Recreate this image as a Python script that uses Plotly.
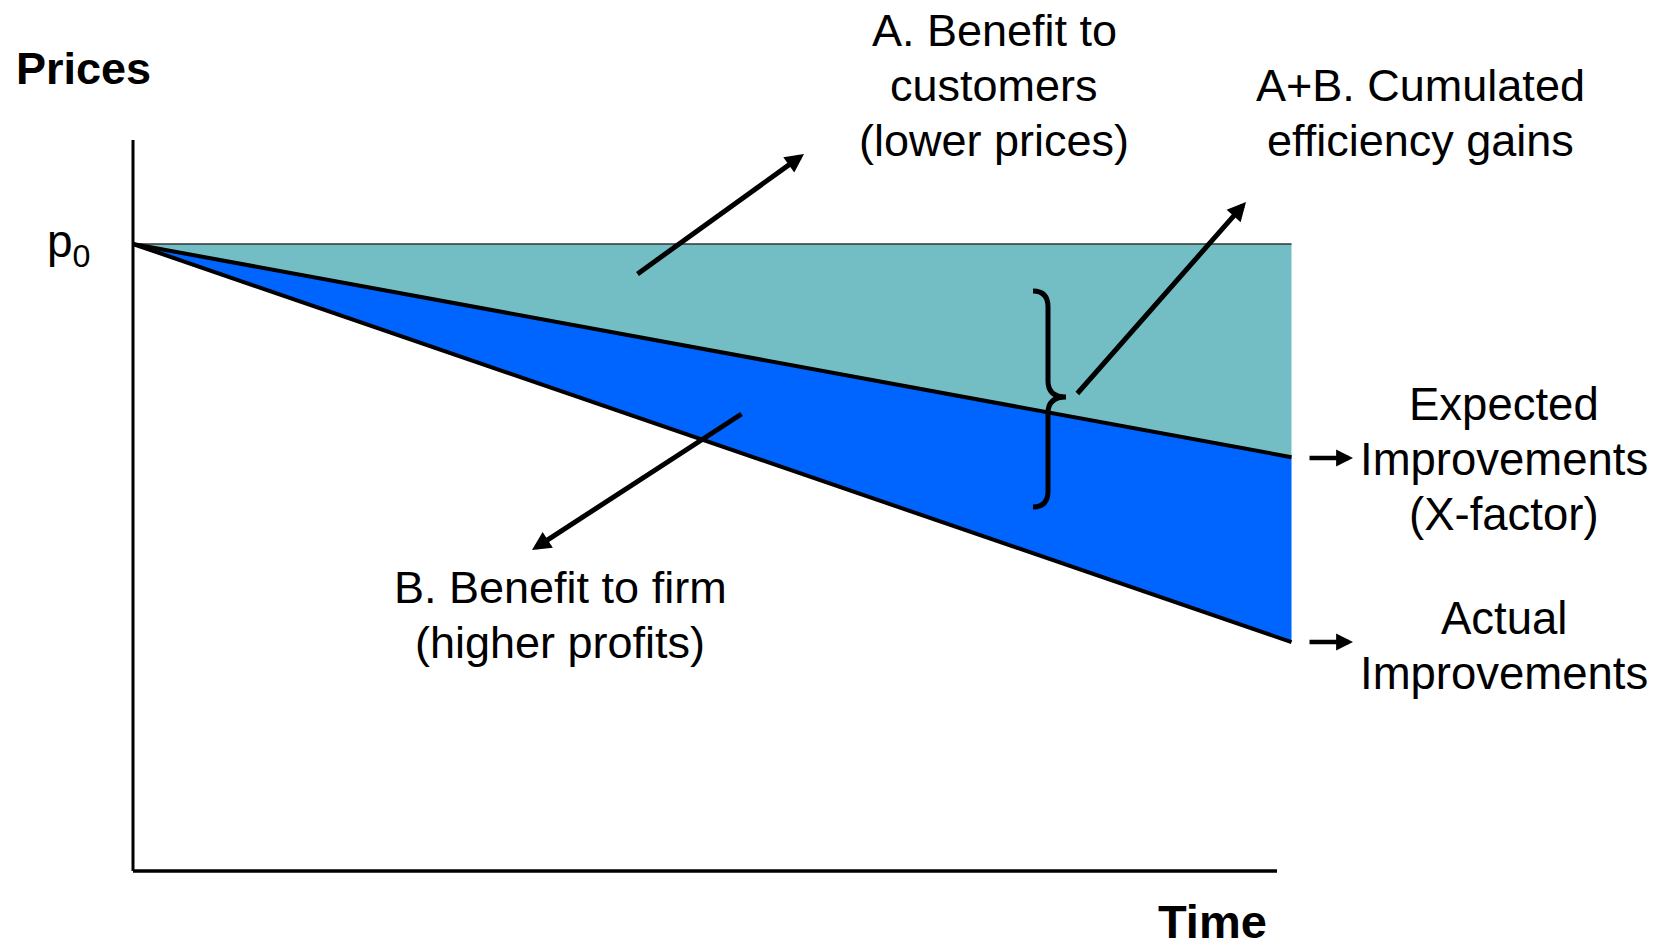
import plotly.graph_objects as go

# ---- data -------------------------------------------------------------
time = [0, 10]                    # start and end of the regulatory period
price_p0 = [100, 100]             # initial price level p0
expected_price = [100, 66]        # price path under the expected X-factor
actual_price = [100, 36.5]        # price path under actual improvements

label_customers = ["A. Benefit to", "customers", "(lower prices)"]
label_cumulated = ["A+B. Cumulated", "efficiency gains"]
label_firm = ["B. Benefit to firm", "(higher profits)"]
label_expected = ["Expected", "Improvements", "(X-factor)"]
label_actual = ["Actual", "Improvements"]

# ---- page geometry ----------------------------------------------------
W, H = 1662, 945
FONT = "Liberation Sans, Arial, Helvetica, sans-serif"
TEAL = "#72BEC4"
BLUE = "#0064FF"

# axis ranges chosen so the plot area fills the whole page
X_RANGE = [-1.148, 13.198]
Y_RANGE = [-11.802, 138.915]


def fx(px):
    return px / W


def fy(py):
    return 1 - py / H


def dx(px):
    return X_RANGE[0] + px / W * (X_RANGE[1] - X_RANGE[0])


def dy(py):
    return Y_RANGE[1] - py / H * (Y_RANGE[1] - Y_RANGE[0])


fig = go.Figure()

# A: region between p0 and the expected path
fig.add_trace(go.Scatter(
    x=time + time[::-1], y=price_p0 + expected_price[::-1],
    fill="toself", fillcolor=TEAL, mode="none", hoverinfo="skip",
))
# B: region between the expected and the actual path
fig.add_trace(go.Scatter(
    x=time + time[::-1], y=expected_price + actual_price[::-1],
    fill="toself", fillcolor=BLUE, mode="none", hoverinfo="skip",
))
# p0 level
fig.add_trace(go.Scatter(
    x=time, y=price_p0, mode="lines",
    line=dict(color="#333333", width=1.5), hoverinfo="skip",
))
# expected and actual price paths
fig.add_trace(go.Scatter(
    x=time, y=expected_price, mode="lines",
    line=dict(color="black", width=4), hoverinfo="skip",
))
fig.add_trace(go.Scatter(
    x=time, y=actual_price, mode="lines",
    line=dict(color="black", width=4), hoverinfo="skip",
))

shapes = []
# drawn axes (L shape)
shapes.append(dict(type="line", xref="x", yref="y", x0=0, x1=0,
                   y0=0, y1=dy(140), line=dict(color="black", width=3)))
shapes.append(dict(type="line", xref="x", yref="y", x0=0, x1=dx(1277),
                   y0=0, y1=0, line=dict(color="black", width=3.5)))

# curly brace spanning A+B
bx_tip, bx_stem, bx_mid = 1033, 1048, 1066
by_top, by_mid, by_bot = 291, 397, 507
pts = [
    ("M", [(bx_tip, by_top)]),
    ("Q", [(bx_stem, by_top), (bx_stem, by_top + 16)]),
    ("L", [(bx_stem, by_mid - 16)]),
    ("Q", [(bx_stem, by_mid), (bx_mid, by_mid)]),
    ("Q", [(bx_stem, by_mid), (bx_stem, by_mid + 16)]),
    ("L", [(bx_stem, by_bot - 16)]),
    ("Q", [(bx_stem, by_bot), (bx_tip, by_bot)]),
]
path = " ".join(
    cmd + " " + " ".join(f"{dx(px):.5f},{dy(py):.5f}" for px, py in p)
    for cmd, p in pts
)
shapes.append(dict(type="path", xref="x", yref="y", path=path,
                   line=dict(color="black", width=5)))

annotations = []


def add_lines(lines, cx, y0, step, size=45, bold=False):
    for i, t in enumerate(lines):
        annotations.append(dict(
            xref="paper", yref="paper", x=fx(cx), y=fy(y0 + i * step),
            xanchor="center", yanchor="middle", showarrow=False,
            text=f"<b>{t}</b>" if bold else t,
            font=dict(family=FONT, size=size, color="black"),
        ))


def add_arrow(tail, tip, width=5):
    annotations.append(dict(
        xref="paper", yref="paper", x=fx(tip[0]), y=fy(tip[1]),
        ax=tail[0] - tip[0], ay=tail[1] - tip[1], axref="pixel", ayref="pixel",
        text="", showarrow=True, arrowhead=2, arrowsize=0.75,
        arrowwidth=width, arrowcolor="black", standoff=0, startstandoff=0,
    ))


add_lines(label_customers, 994, 30, 55)
add_lines(label_cumulated, 1420, 85, 55)
add_lines(label_firm, 560, 587, 55)
add_lines(label_expected, 1504, 404, 55, size=45.5)
add_lines(label_actual, 1504, 618, 55, size=45.5)

annotations.append(dict(
    xref="paper", yref="paper", x=fx(14), y=fy(69), xanchor="left",
    yanchor="middle", showarrow=False, text="<b>Prices</b>",
    font=dict(family=FONT, size=45, color="black"),
))
annotations.append(dict(
    xref="paper", yref="paper", x=fx(1212), y=fy(921), xanchor="center",
    yanchor="middle", showarrow=False, text="<b>Time</b>", height=40,
    font=dict(family=FONT, size=47, color="black"),
))
annotations.append(dict(
    xref="paper", yref="paper", x=fx(45), y=fy(244), xanchor="left",
    yanchor="middle", showarrow=False, text="p<sub>0</sub>",
    font=dict(family=FONT, size=46, color="black"),
))

add_arrow((636, 275), (804, 154))
add_arrow((1076, 395), (1246, 202))
add_arrow((743, 413), (532, 550))
add_arrow((1308, 458), (1353, 458), width=4.5)
add_arrow((1308, 642), (1353, 642), width=4.5)

fig.update_layout(
    width=W, height=H,
    margin=dict(l=0, r=0, t=0, b=0),
    paper_bgcolor="white", plot_bgcolor="white",
    showlegend=False,
    xaxis=dict(range=X_RANGE, visible=False, fixedrange=True),
    yaxis=dict(range=Y_RANGE, visible=False, fixedrange=True),
    shapes=shapes,
    annotations=annotations,
)

fig.write_html("out.html")
